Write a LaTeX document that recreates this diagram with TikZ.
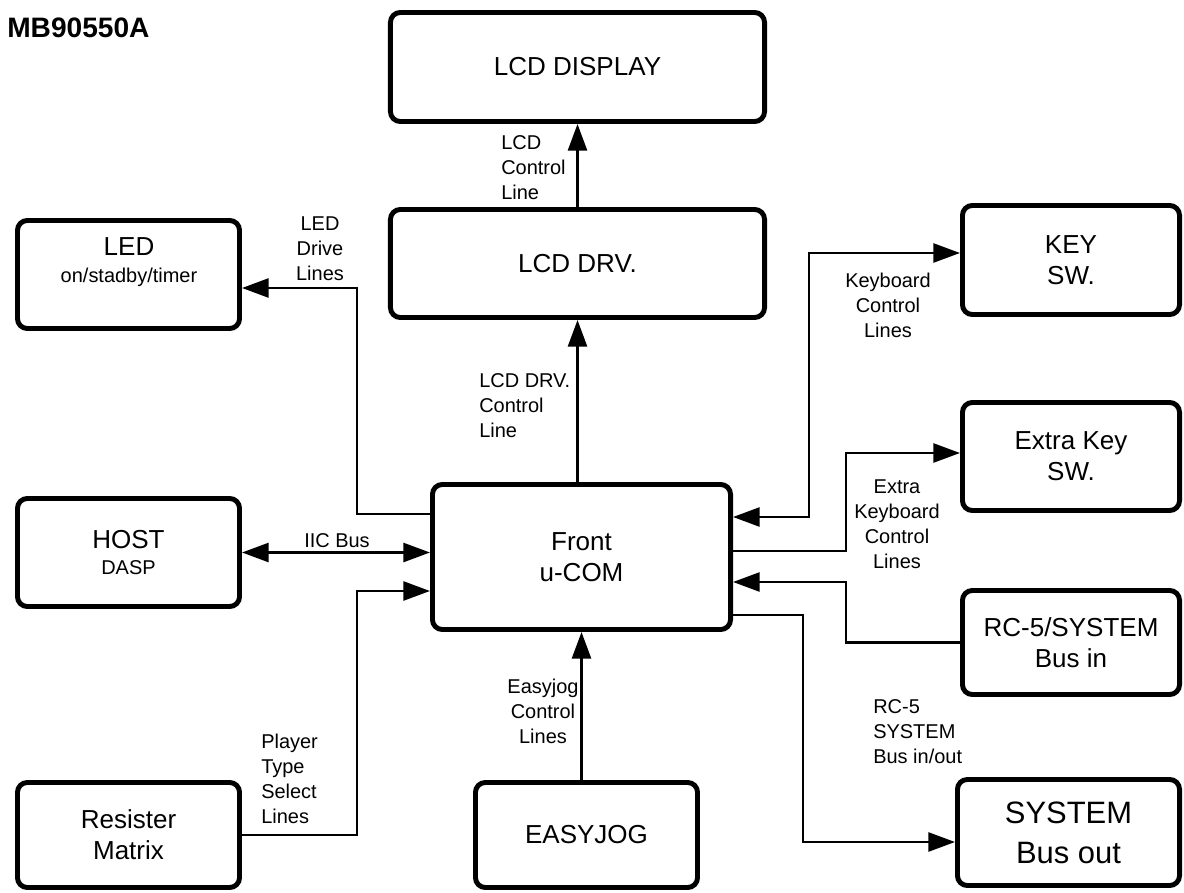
\documentclass[tikz,border=0pt]{standalone}
\usepackage{fontspec}
\setmainfont{Liberation Sans}
\usetikzlibrary{arrows.meta,positioning}
\newcommand\boxfont{\fontsize{18.5}{22}\selectfont}
\newcommand\lblfont{\fontsize{14.2}{17.8}\selectfont}
\newcommand\sysfont{\fontsize{22}{28.5}\selectfont}
\newcommand\titlefont{\fontsize{20}{24}\selectfont\bfseries}

\begin{document}
\begin{tikzpicture}[x=0.025cm,y=-0.025cm,
          blk/.style={draw,line width=3.5pt,rounded corners=7pt,
                      minimum width=5.55cm,minimum height=2.7cm,align=center,font=\boxfont},
          lbl/.style={font=\lblfont,align=center,inner sep=0pt},
          tip/.tip={Triangle[length=19pt,width=13.5pt]},
          conn/.style={line width=2pt,-tip},
          both/.style={line width=2pt,tip-tip}]
        \useasboundingbox (0,0) rectangle (1184,893);
        \node[font=\titlefont,anchor=west,inner sep=0pt] (title) at (7,28) {MB90550A};
        % blocks
        \node[blk,minimum width=9.35cm,minimum height=2.725cm] (lcddisp) at (577.5,67) {LCD DISPLAY};
        \node[blk,minimum width=9.35cm] (lcddrv) at (577.5,263.5) {LCD DRV.};
        \node[blk] (led) at (128.5,274.5) {};
        \node[font=\boxfont,align=center] (ledtxt) at (129,262) {LED\\[-3pt]{\lblfont on/stadby/timer}};
        \node[blk,minimum width=5.425cm,minimum height=2.725cm] (key) at (1071,260) {KEY\\SW.};
        \node[blk,minimum width=5.425cm] (extra) at (1071,456.5) {Extra Key\\SW.};
        \node[blk,minimum width=7.45cm,minimum height=3.625cm] (front) at (581.5,557) {Front\\u-COM};
        \node[blk] (host) at (128.5,552.5) {HOST\\[-3pt]{\lblfont DASP}};
        \node[blk,minimum width=5.425cm,minimum height=2.6cm] (rc5) at (1071,642.5) {RC-5/SYSTEM\\Bus in};
        \node[blk,minimum height=2.625cm] (resister) at (128.5,835) {Resister\\Matrix};
        \node[blk,minimum height=2.625cm] (easyjog) at (586.5,835) {EASYJOG};
        \node[blk,minimum height=2.65cm,font=\sysfont] (sysout) at (1068.5,832.5) {SYSTEM\\Bus out};
        % connectors
        \draw[conn] (lcddrv) -- (lcddisp);
        \draw[conn] (front.north -| lcddrv) -- (lcddrv.south);
        \draw[conn] (front.west |- 0,514) -| (357,288) -- (led.east |- 0,288);
        \draw[both] (host.east) -- (front.west |- host.east);
        \draw[conn] (resister.east) -| (357,591) -- (front.west |- 0,591);
        \draw[conn] (easyjog.north -| front) -- (front.south);
        \draw[both] (front.east |- 0,517) -| (809,253) -- (key.west |- 0,253);
        \draw[conn] (front.east |- 0,551) -| (846,453) -- (extra.west |- 0,453);
        \draw[conn] (rc5.west) -| (846,582) -- (front.east |- 0,582);
        \draw[conn] (front.east |- 0,615) -| (803,842) -- (sysout.west |- 0,842);
        % labels
        \node[lbl,align=left,anchor=west] (lcdctl) at (501,168) {LCD\\Control\\Line};
        \node[lbl] (leddrv) at (320,249) {LED\\Drive\\Lines};
        \node[lbl,align=left,anchor=west] (lcddrvctl) at (479,406) {LCD DRV.\\Control\\Line};
        \node[lbl] (iic) at (337,541) {IIC Bus};
        \node[lbl,align=left,anchor=west] (player) at (261,779) {Player\\Type\\Select\\Lines};
        \node[lbl] (easyctl) at (543,711) {Easyjog\\Control\\Lines};
        \node[lbl] (kbd) at (888,305) {Keyboard\\Control\\Lines};
        \node[lbl] (extrakbd) at (897,524.5) {Extra\\Keyboard\\Control\\Lines};
        \node[lbl,align=left,anchor=west] (rc5lbl) at (873,732) {RC-5\\SYSTEM\\Bus in/out};
        \end{tikzpicture}
\end{document}
